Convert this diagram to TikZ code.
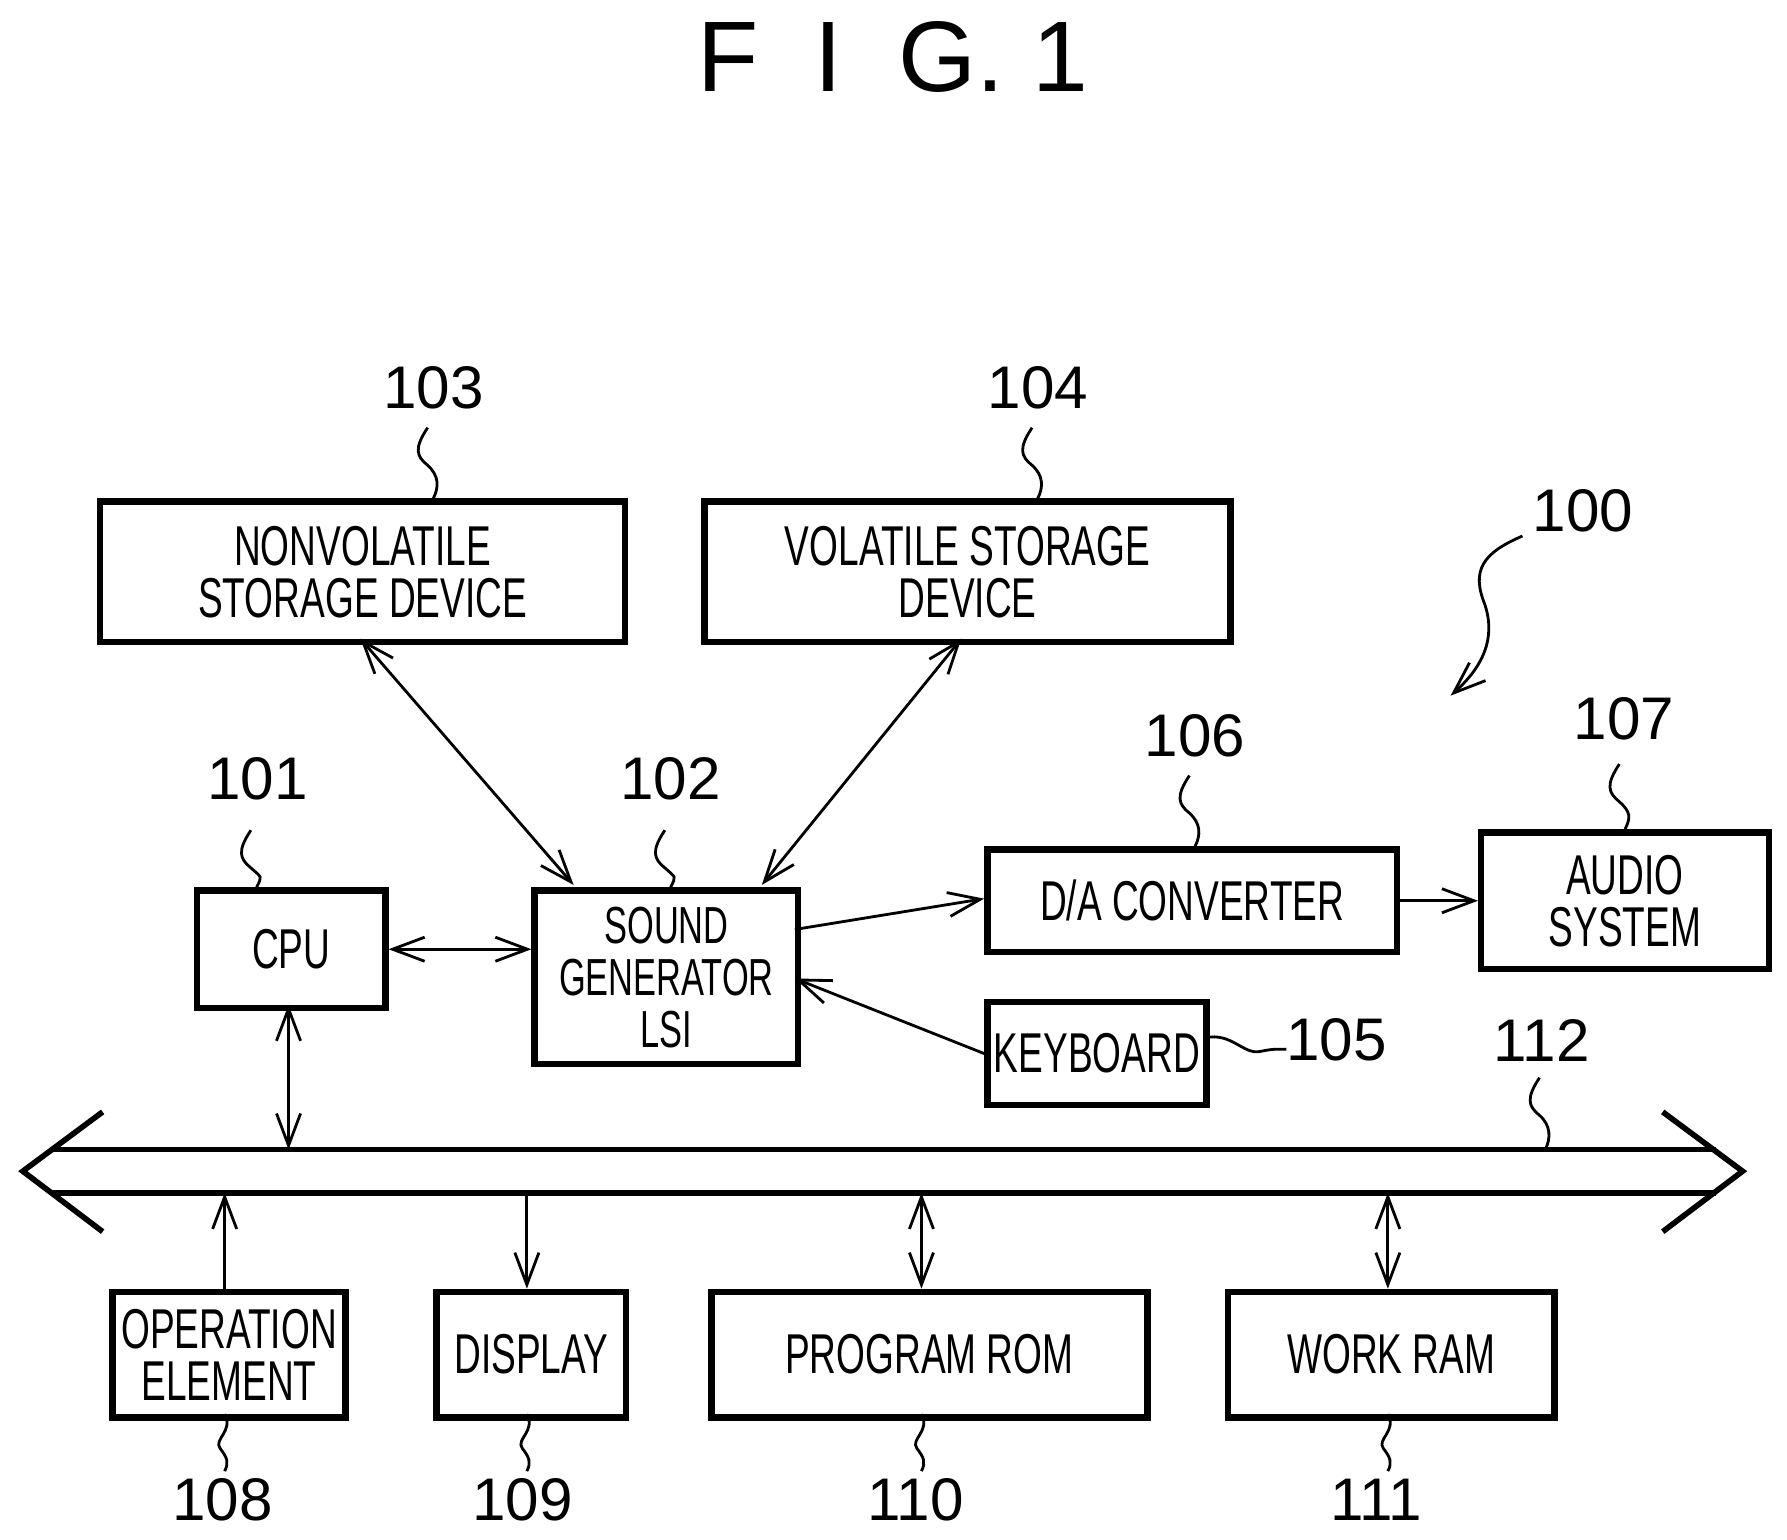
\documentclass[tikz,border=0pt]{standalone}
\usepackage{fontspec}
\setmainfont[FakeStretch=0.66]{Liberation Sans}
\newfontfamily\numfont{Liberation Sans}
\usetikzlibrary{arrows.meta}
\begin{document}
\begin{tikzpicture}[x=0.01cm,y=-0.01cm,
  box/.style={draw,line width=1.6pt,anchor=north west,inner sep=0pt,align=center,font=\fontsize{14}{13}\selectfont},
  num/.style={font=\numfont\fontsize{15}{15}\selectfont},
  ar/.style={-{Straight Barb[length=8pt,width=6pt]},line width=0.7pt},
  dar/.style={{Straight Barb[length=8pt,width=6pt]}-{Straight Barb[length=8pt,width=6pt]},line width=0.7pt},
  sq/.style={line width=0.7pt}]
\useasboundingbox (0,0) rectangle (1567,1350);
\node[font=\numfont\fontsize{25}{25}\selectfont] (title) at (783,50) {F\ \ I\ \ G.\ 1};
% boxes
\node[box,minimum width=4.6cm,minimum height=1.23cm] (n103) at (85,437) {NONVOLATILE\\STORAGE DEVICE};
\node[box,minimum width=4.61cm,minimum height=1.23cm] (n104) at (615,437) {VOLATILE STORAGE\\DEVICE};
\node[box,minimum width=1.65cm,minimum height=1.03cm] (n101) at (170,778) {CPU};
\node[box,minimum width=2.31cm,minimum height=1.52cm,font=\fontsize{13}{13}\selectfont] (n102) at (466,778) {SOUND\\GENERATOR\\LSI};
\node[box,minimum width=3.59cm,minimum height=0.9cm] (n106) at (863,742) {D/A CONVERTER};
\node[box,minimum width=2.52cm,minimum height=1.2cm] (n107) at (1296,727) {AUDIO\\SYSTEM};
\node[box,minimum width=1.92cm,minimum height=0.9cm] (n105) at (863,876) {KEYBOARD};
\node[box,minimum width=2.04cm,minimum height=1.1cm] (n108) at (96,1130) {OPERATION\\ELEMENT};
\node[box,minimum width=1.66cm,minimum height=1.1cm] (n109) at (380,1130) {DISPLAY};
\node[box,minimum width=3.82cm,minimum height=1.1cm] (n110) at (621,1130) {PROGRAM ROM};
\node[box,minimum width=2.86cm,minimum height=1.1cm] (n111) at (1074,1130) {WORK RAM};
% labels
\node[num] (l103) at (380,340) {103};
\node[num] (l104) at (910,340) {104};
\node[num] (l100) at (1388,448) {100};
\node[num] (l101) at (226,683) {101};
\node[num] (l102) at (588,683) {102};
\node[num] (l106) at (1048,645) {106};
\node[num] (l107) at (1424,630) {107};
\node[num] (l105) at (1172,912) {105};
\node[num] (l112) at (1352,912) {112};
\node[num] (l108) at (195,1315) {108};
\node[num] (l109) at (458,1315) {109};
\node[num] (l110) at (803,1315) {110};
\node[num] (l111) at (1207,1315) {111};
% bus
\coordinate (bl) at (45,1008); \coordinate (br) at (1505,1008);
\coordinate (bl2) at (45,1046); \coordinate (br2) at (1505,1046);
\draw[line width=1.4pt] (bl) -- (br) (bl2) -- (br2);
\draw[line width=1.4pt] (90,975) -- (20,1027) -- (90,1080);
\draw[line width=1.4pt] (1458,975) -- (1528,1027) -- (1458,1080);
% squiggles
\foreach \x/\ya/\yb in {375/375/437, 905/375/437, 220/728/778, 583/728/778, 1043/680/742, 1420/670/727, 1350/945/1008}
  \draw[sq] (\x,\ya) .. controls (\x-12,\ya+18) and (\x-10,\ya+25) .. (\x,\ya+33) .. controls (\x+10,\ya+42) and (\x+10,\yb-10) .. (\x+5,\yb);
\foreach \x in {197,462,808,1217}
  \draw[sq] (\x,1240) .. controls (\x+8,1255) and (\x-10,1262) .. (\x-4,1270) .. controls (\x+2,1278) and (\x+4,1282) .. (\x,1290);
\draw[sq] (1057,910) .. controls (1080,905) and (1090,925) .. (1105,922) .. controls (1115,920) .. (1128,920);
\draw[ar] (1335,470) .. controls (1300,485) and (1290,500) .. (1302,530) .. controls (1312,560) and (1300,585) .. (1272,610);
% connectors
\draw[dar] (253,881) -- (253,1008);
\draw[dar] (n101.east) -- (n101.east -| n102.west);
\draw[dar] (316,560) -- (503,776);
\draw[dar] (843,560) -- (668,776);
\draw[ar] (697,815) -- (863,788);
\draw[ar] (n106.east) -- (n106.east -| n107.west);
\draw[ar] (n105.west) -- (697,858);
\draw[ar] (197,1130) -- (197,1046);
\draw[ar] (462,1046) -- (462,1130);
\draw[dar] (808,1046) -- (808,1130);
\draw[dar] (1217,1046) -- (1217,1130);
\end{tikzpicture}
\end{document}
